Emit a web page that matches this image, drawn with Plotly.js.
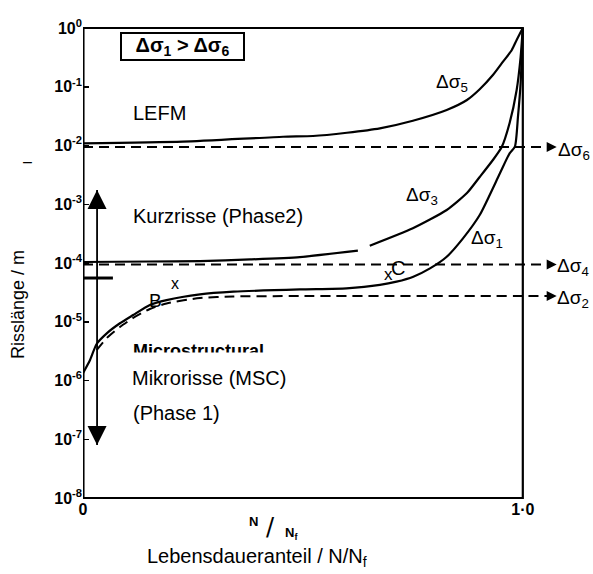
<!DOCTYPE html>
<html>
<head>
<meta charset="utf-8">
<script src="https://cdn.plot.ly/plotly-3.0.1.min.js"></script>
<style>html,body{margin:0;padding:0;background:#fff;}#chart{width:593px;height:574px;}</style>
</head>
<body>
<div id="chart"></div>
<script>
// ---- data (N/Nf, crack length in m) ----
const ds5X = [0, 0.227, 0.455, 0.523, 0.600, 0.675, 0.750, 0.827, 0.873, 0.902, 0.932, 0.955, 0.975, 0.986, 1.0];
const ds5Y = [1.09e-2, 1.16e-2, 1.41e-2, 1.45e-2, 1.65e-2, 1.96e-2, 2.64e-2, 4.02e-2, 5.94e-2, 9.06e-2, 0.158, 0.267, 0.423, 0.625, 1.0];

const ds3X = [0, 0.152, 0.266, 0.380, 0.493, 0.625, 0.640, 0.652, 0.750, 0.827, 0.873, 0.902, 0.932, 0.952, 0.970, 0.986, 0.995, 1.0];
const ds3Y = [1.04e-4, 1.06e-4, 1.08e-4, 1.15e-4, 1.26e-4, 1.62e-4, null, 1.97e-4, 3.90e-4, 7.98e-4, 1.55e-3, 2.91e-3, 5.66e-3, 9.42e-3, 2.42e-2, 8.81e-2, 0.321, 1.0];

const ds1X = [0, 0.016, 0.031, 0.054, 0.084, 0.114, 0.152, 0.190, 0.266, 0.342, 0.493, 0.599, 0.675, 0.713, 0.751, 0.789, 0.827, 0.864, 0.902, 0.948, 0.970, 0.982, 0.989, 0.995, 1.0];
const ds1Y = [1.33e-6, 2.23e-6, 4.18e-6, 6.35e-6, 9.42e-6, 1.30e-5, 1.93e-5, 2.34e-5, 2.93e-5, 3.25e-5, 3.56e-5, 3.71e-5, 4.23e-5, 4.81e-5, 5.85e-5, 8.11e-5, 1.28e-4, 2.63e-4, 6.56e-4, 3.37e-3, 7.36e-3, 9.55e-3, 3.10e-2, 0.115, 1.0];

const ds2X = [0.031, 0.054, 0.084, 0.114, 0.152, 0.190, 0.266, 0.341, 0.493, 1.0, 1.057];
const ds2Y = [3.30e-6, 5.28e-6, 8.15e-6, 1.16e-5, 1.65e-5, 2.05e-5, 2.54e-5, 2.69e-5, 2.74e-5, 2.74e-5, 2.74e-5];

const ds4X = [0, 1.057];
const ds4Y = [9.42e-5, 9.42e-5];
const ds6X = [0, 1.057];
const ds6Y = [9.42e-3, 9.42e-3];

const arrowTipX = [1.077, 1.077, 1.077];
const arrowTipY = [9.42e-3, 9.42e-5, 2.74e-5];

const rangeArrowX = [0.032, 0.032];
const rangeArrowY = [1.75e-3, 7.98e-8];

const markX = [0, 0.068];
const markY = [5.55e-5, 5.55e-5];

const yTickVals = [1, 1e-1, 1e-2, 1e-3, 1e-4, 1e-5, 1e-6, 1e-7, 1e-8];
const yTickText = ['10<sup>0</sup>', '10<sup>-1</sup>', '10<sup>-2</sup>', '10<sup>-3</sup>', '10<sup>-4</sup>', '10<sup>-5</sup>', '10<sup>-6</sup>', '10<sup>-7</sup>', '10<sup>-8</sup>'];
const xTickVals = [0, 1];
const xTickText = ['0', '1·0'];

// ---- layout helpers ----
const L = 83, R = 35, T = 28, B = 76, W = 593, H = 574;
const PW = W - L - R, PH = H - T - B;
const px = v => (v - L) / PW;
const py = v => (H - B - v) / PH;

const solid = {color: '#000', width: 2.2, shape: 'spline', smoothing: 0.6};
const dashed = {color: '#000', width: 2, dash: '10px,6px'};

const traces = [
  {x: ds5X, y: ds5Y, mode: 'lines', line: solid, connectgaps: false},
  {x: ds3X, y: ds3Y, mode: 'lines', line: solid, connectgaps: false},
  {x: ds1X, y: ds1Y, mode: 'lines', line: solid},
  {x: ds2X, y: ds2Y, mode: 'lines', line: Object.assign({}, dashed, {shape: 'spline', smoothing: 0.6})},
  {x: ds4X, y: ds4Y, mode: 'lines', line: dashed},
  {x: ds6X, y: ds6Y, mode: 'lines', line: dashed},
  {x: arrowTipX, y: arrowTipY, mode: 'markers', marker: {symbol: 'arrow-right', size: 10, color: '#000'}, cliponaxis: false},
  {x: rangeArrowX, y: rangeArrowY, mode: 'lines+markers', line: {color: '#000', width: 1.8},
   marker: {symbol: ['arrow-up', 'arrow-down'], size: 19, color: '#000'}, cliponaxis: false},
  {x: markX, y: markY, mode: 'lines', line: {color: '#000', width: 3}}
];

const FAM = 'Liberation Sans, Arial, sans-serif';
const txt = (text, x, y, o) => Object.assign({
  text: text, xref: 'paper', yref: 'paper', x: px(x), y: py(y),
  showarrow: false, xanchor: 'left', yanchor: 'middle',
  font: {family: FAM, size: 20, color: '#000'}
}, o || {});

const sigmaFont = {family: FAM, size: 19, color: '#000'};

const annotations = [
  txt('Δσ<sub>1</sub> &gt; Δσ<sub>6</sub>', 182.5, 46.5, {xanchor: 'center', bordercolor: '#000', borderwidth: 2,
      borderpad: 0, width: 121, height: 25, bgcolor: '#fff',
      font: {family: FAM, size: 20, color: '#000', weight: 'bold'}}),
  txt('LEFM', 131, 113),
  txt('Kurzrisse (Phase2)', 131, 216),
  txt('Microstructural', 131, 351, {font: {family: FAM, size: 18, color: '#000', weight: 'bold'}}),
  txt('Mikrorisse (MSC)', 131, 371, {bgcolor: '#fff', height: 36, valign: 'bottom', borderpad: 0}),
  txt('(Phase 1)', 131, 413),
  txt('Δσ<sub>5</sub>', 434, 83, {font: sigmaFont}),
  txt('Δσ<sub>3</sub>', 404, 196, {font: sigmaFont}),
  txt('Δσ<sub>1</sub>', 469, 239, {font: sigmaFont}),
  txt('Δσ<sub>6</sub>', 556, 151, {font: sigmaFont}),
  txt('Δσ<sub>4</sub>', 555, 267, {font: sigmaFont}),
  txt('Δσ<sub>2</sub>', 555, 299, {font: sigmaFont}),
  txt('x', 175, 283, {xanchor: 'center', font: {family: FAM, size: 16, color: '#000'}}),
  txt('B', 155, 300, {xanchor: 'center', font: {family: FAM, size: 19, color: '#000'}}),
  txt('x', 388, 274, {xanchor: 'center', font: {family: FAM, size: 17, color: '#000'}}),
  txt('C', 398, 268, {xanchor: 'center', font: {family: FAM, size: 20, color: '#000'}}),
  txt('–', 27, 162, {xanchor: 'center', font: {family: FAM, size: 16, color: '#000'}}),
  txt('N', 253, 521, {xanchor: 'center', font: {family: FAM, size: 13, color: '#000', weight: 'bold'}}),
  txt('/', 270, 527, {xanchor: 'center', font: {family: 'DejaVu Sans, sans-serif', size: 24, color: '#000'}}),
  txt('N<sub>f</sub>', 291, 533, {xanchor: 'center', font: {family: FAM, size: 13, color: '#000', weight: 'bold'}}),
  txt('Lebensdaueranteil / N/N<sub>f</sub>', 257, 557, {xanchor: 'center', font: {family: FAM, size: 20, color: '#000'}}),
  txt('Risslänge / m', 18, 305, {xanchor: 'center', textangle: -90, font: {family: FAM, size: 18, color: '#000'}})
];

const layout = {
  width: W, height: H,
  margin: {l: L, r: R, t: T, b: B, pad: 0},
  paper_bgcolor: '#fff', plot_bgcolor: '#fff',
  showlegend: false,
  xaxis: {range: [0, 1.08], showgrid: false, zeroline: false, showline: false, ticks: '',
          tickvals: xTickVals, ticktext: xTickText,
          tickfont: {family: FAM, size: 16, color: '#000', weight: 'bold'}},
  yaxis: {type: 'log', range: [-8, 0], showgrid: false, zeroline: false, showline: false,
          ticks: 'inside', ticklen: 6, tickwidth: 1.5, tickcolor: '#000',
          tickvals: yTickVals, ticktext: yTickText,
          tickfont: {family: FAM, size: 16, color: '#000', weight: 'bold'}},
  shapes: [
    {type: 'rect', xref: 'x', yref: 'y domain', x0: 0, x1: 1, y0: 0, y1: 1, line: {color: '#000', width: 2.2}, layer: 'above'},
    {type: 'line', xref: 'x', yref: 'y domain', x0: 0, x1: 0, y0: 0, y1: 1, line: {color: '#000', width: 3}, layer: 'above'}
  ],
  annotations: annotations
};

Plotly.newPlot('chart', traces, layout, {staticPlot: true});
</script>
</body>
</html>
